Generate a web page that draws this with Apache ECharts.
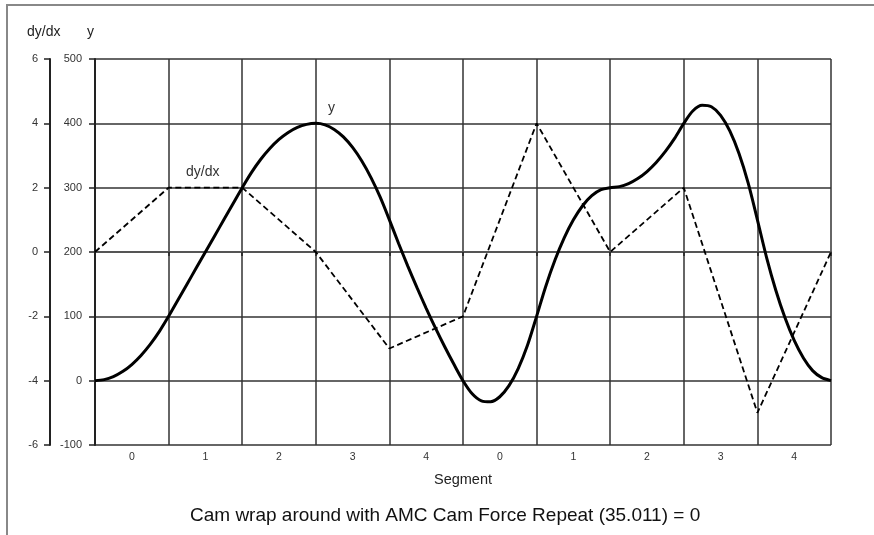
<!DOCTYPE html>
<html>
<head>
<meta charset="utf-8">
<script src="https://cdn.jsdelivr.net/npm/echarts@6/dist/echarts.min.js"></script>
<style>html,body{margin:0;padding:0;background:#fff}#c{width:874px;height:535px}</style>
</head>
<body>
<div id="c"></div>
<script>
var segmentLabels = ['0','1','2','3','4','0','1','2','3','4'];
var yTicks = [-100, 0, 100, 200, 300, 400, 500];
var dydxTicks = [-6, -4, -2, 0, 2, 4, 6];
var dydxX = [0,1,2,3,4,5,6,7,8,9,10];
var dydxValues = [0, 2, 2, 0, -3, -2, 4, 0, 2, -5, 0];
var yX = [
 0,0.125,0.25,0.375,0.5,0.625,0.75,0.875,
 1,1.125,1.25,1.375,1.5,1.625,1.75,1.875,
 2,2.125,2.25,2.375,2.5,2.625,2.75,2.875,
 3,3.125,3.25,3.375,3.5,3.625,3.75,3.875,
 4,4.125,4.25,4.375,4.5,4.625,4.75,4.875,
 5,5.125,5.25,5.375,5.5,5.625,5.75,5.875,
 6,6.125,6.25,6.375,6.5,6.625,6.75,6.875,
 7,7.125,7.25,7.375,7.5,7.625,7.75,7.875,
 8,8.125,8.25,8.375,8.5,8.625,8.75,8.875,
 9,9.125,9.25,9.375,9.5,9.625,9.75,9.875,
 10];
var yValues = [
 0,1.6,6.3,14.1,25,39.1,56.3,76.6,
 100,125,150,175,200,225,250,275,
 300,323.4,343.8,360.9,375,385.9,393.8,398.4,
 400,397.7,390.6,378.9,362.5,341.4,315.6,285.2,
 250,213.3,178.1,144.5,112.5,82.0,53.1,25.8,
 0,-20.3,-31.3,-32.8,-25,-7.8,18.8,54.7,
 100,146.9,187.5,221.9,250,271.9,287.5,296.9,
 300,301.6,306.3,314.1,325,339.1,356.3,376.6,
 400,419.5,428.1,425.8,412.5,388.3,353.1,307.0,
 250,191.4,140.6,97.7,62.5,35.2,15.6,4.7,
 0];

var FONT = '"Liberation Sans", Arial, sans-serif';
var chart = echarts.init(document.getElementById('c'), null, {renderer:'canvas'});
var yData = yX.map(function(x,i){return [x, yValues[i]];});
var dData = dydxX.map(function(x,i){return [x, dydxValues[i]];});

chart.setOption({
  animation: false,
  backgroundColor: '#fff',
  grid: {left: 95, right: 43, top: 59, bottom: 90},
  xAxis: [
    {type:'value', min:0, max:10, interval:1,
     axisLine:{show:false}, axisTick:{show:false}, axisLabel:{show:false},
     splitLine:{show:true, lineStyle:{color:'#333', width:1.5}}},
    {type:'category', position:'bottom', data: segmentLabels, boundaryGap:true,
     axisLine:{show:true, lineStyle:{color:'#555', width:2}},
     axisTick:{show:true, length:4, lineStyle:{color:'#222', width:1.5}},
     axisLabel:{color:'#333', fontSize:10.5, fontFamily:FONT, margin:7},
     name:'Segment', nameLocation:'middle', nameGap:27,
     nameTextStyle:{color:'#222', fontSize:14.5, fontFamily:FONT}}
  ],
  yAxis: [
    {type:'value', min:-100, max:500, interval:100, position:'left',
     axisLine:{show:true, lineStyle:{color:'#222', width:2}},
     axisTick:{show:true, length:6, lineStyle:{color:'#222', width:1.5}},
     axisLabel:{color:'#333', fontSize:11, fontFamily:FONT, margin:13},
     splitLine:{show:true, lineStyle:{color:'#333', width:1.5}}},
    {type:'value', min:-6, max:6, interval:2, position:'left', offset:45,
     axisLine:{show:true, lineStyle:{color:'#222', width:2}},
     axisTick:{show:true, length:6, lineStyle:{color:'#222', width:1.5}},
     axisLabel:{color:'#333', fontSize:11, fontFamily:FONT, margin:12},
     splitLine:{show:false}}
  ],
  series: [
    {name:'dy/dx', type:'line', xAxisIndex:0, yAxisIndex:1, data:dData,
     showSymbol:false, symbol:'none',
     lineStyle:{color:'#000', width:1.8, type:[6,3.5]}, z:3},
    {name:'y', type:'line', xAxisIndex:0, yAxisIndex:0, data:yData,
     showSymbol:false, symbol:'none', smooth:0.3,
     lineStyle:{color:'#000', width:3}, z:4}
  ],
  graphic: [
    {type:'line', shape:{x1:6, y1:5, x2:874, y2:5}, style:{stroke:'#888', lineWidth:2}},
    {type:'line', shape:{x1:7, y1:5, x2:7, y2:535}, style:{stroke:'#888', lineWidth:2}},
    {type:'text', left:27, top:25, style:{text:'dy/dx', fill:'#222', font:'14px ' + FONT}},
    {type:'text', left:87, top:25, style:{text:'y', fill:'#222', font:'14px ' + FONT}},
    {type:'text', left:328, top:101, style:{text:'y', fill:'#333', font:'14px ' + FONT}},
    {type:'text', left:186, top:165, style:{text:'dy/dx', fill:'#333', font:'14px ' + FONT}},
    {type:'text', left:190, top:506, style:{text:'Cam wrap around with AMC Cam Force Repeat (35.011) = 0', fill:'#111', font:'19px ' + FONT}}
  ]
});
</script>
</body>
</html>
